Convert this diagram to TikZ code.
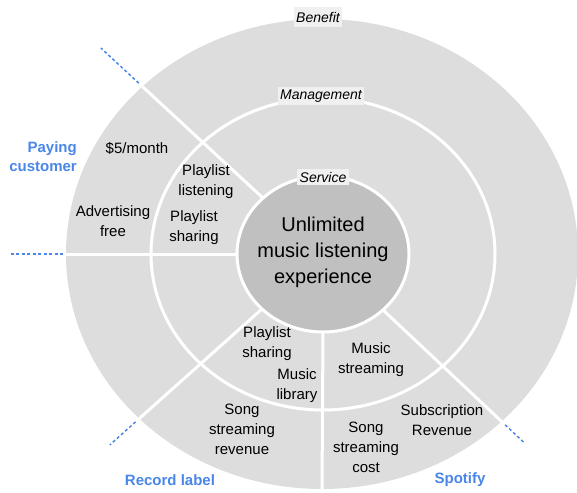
\documentclass[tikz,border=0pt]{standalone}
\usepackage{fontspec}
\setmainfont{Liberation Sans}
\usetikzlibrary{shapes.geometric,calc}
\definecolor{ringgray}{RGB}{221,221,221}
\definecolor{coregray}{RGB}{192,192,192}
\definecolor{tagbg}{RGB}{240,240,240}
\definecolor{roleblue}{RGB}{74,134,232}
\begin{document}
\begin{tikzpicture}[x=1pt,y=-1pt,
  ring/.style={ellipse, inner sep=0pt, outer sep=0pt, fill=ringgray},
  sep/.style={white, line width=3pt},
  ext/.style={roleblue, line width=1.5pt, dash pattern=on 3pt off 2.5pt},
  txt/.style={align=center, font=\fontsize{15}{20}\selectfont, inner sep=0pt},
  layer/.style={fill=tagbg, font=\fontsize{14}{16}\selectfont\itshape, inner xsep=2.5pt, inner ysep=3pt},
  role/.style={text=roleblue, font=\fontsize{15}{19}\selectfont\bfseries, inner sep=0pt}]
\useasboundingbox (0,0) rectangle (577,492);
\clip (0,0) rectangle (577,492);
\coordinate (C) at (323,254);
\node[ring, minimum width=512pt, minimum height=470pt] (outer) at (322,254) {};
\node[ring, draw=white, line width=3pt, minimum width=344pt, minimum height=312pt] (mid) at (C) {};
\node[ring, fill=coregray, draw=white, line width=3pt, minimum width=172pt, minimum height=156pt] (core) at (C) {};
\foreach \a in {137.8,180,222.2,270,317.8}
  \draw[sep] (core.\a) -- (outer.\a);
% dotted extensions
\coordinate (ul0) at ($(C)!1.02!(outer.137.8)$);
\coordinate (ul1) at ($(C)!1.23!(outer.137.8)$);
\coordinate (l0) at ($(C)!1.01!(outer.180)$);
\coordinate (l1) at ($(C)!1.22!(outer.180)$);
\coordinate (ll0) at ($(C)!1.02!(outer.222.2)$);
\coordinate (ll1) at ($(C)!1.16!(outer.222.2)$);
\coordinate (lr0) at ($(C)!1.02!(outer.317.8)$);
\coordinate (lr1) at ($(C)!1.13!(outer.317.8)$);
\draw[ext] (ul0) -- (ul1);
\draw[ext] (l0) -- (l1);
\draw[ext] (ll0) -- (ll1);
\draw[ext] (lr0) -- (lr1);
% centre text
\node[align=center, font=\fontsize{20}{26}\selectfont, inner sep=0pt] (exp) at (323,252) {Unlimited\\music listening\\experience};
% layer tags
\node[layer, inner ysep=5pt] (benefit) at (318,17) {Benefit};
\node[layer] (management) at (321,96) {Management};
\node[layer] (service) at (323,177) {Service};
% texts
\node[txt] (price) at (137,148) {\$5/month};
\node[txt] (adfree) at (113,221) {Advertising\\free};
\node[txt] (pllisten) at (206,182) {Playlist\\listening};
\node[txt] (plshare1) at (194,228) {Playlist\\sharing};
\node[txt] (plshare2) at (267,344) {Playlist\\sharing};
\node[txt] (library) at (297,386) {Music\\library};
\node[txt] (songrev) at (242,429) {Song\\streaming\\revenue};
\node[txt] (musicstream) at (371,360) {Music\\streaming};
\node[txt] (songcost) at (366,447) {Song\\streaming\\cost};
\node[txt] (subrev) at (442,420) {Subscription\\Revenue};
% roles
\node[role, align=right, anchor=east] (paying) at (77,157) {Paying\\customer};
\node[role] (record) at (170,480) {Record label};
\node[role] (spotify) at (460,480) {Spotify};
\end{tikzpicture}
\end{document}
